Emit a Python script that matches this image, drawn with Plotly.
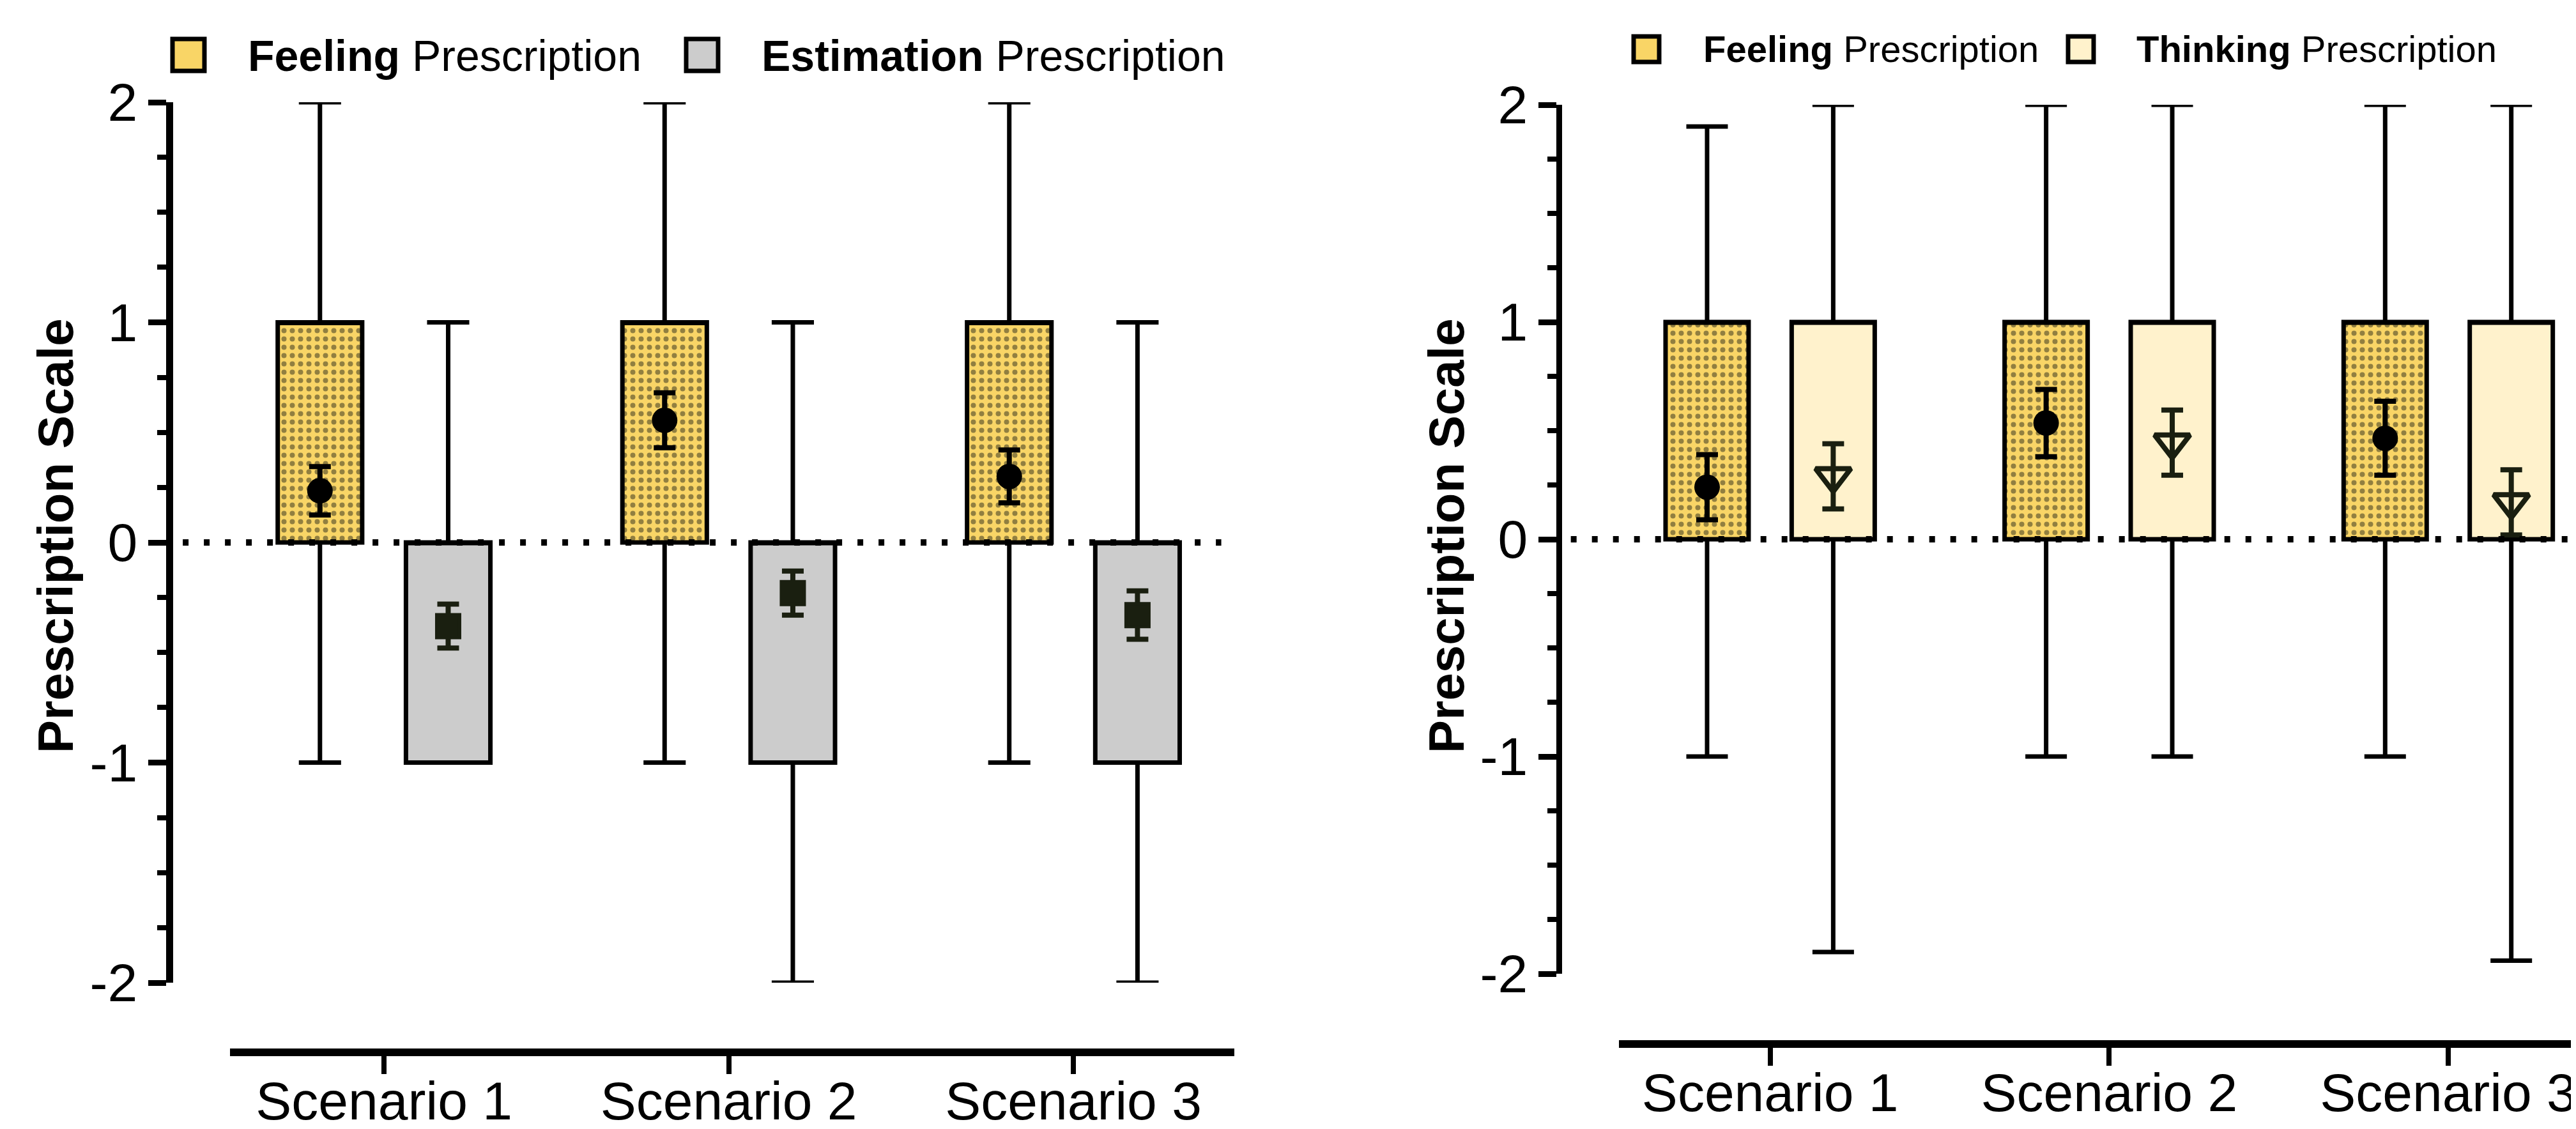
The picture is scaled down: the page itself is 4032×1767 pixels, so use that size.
import numpy as np
import plotly.graph_objects as go

# ---------------- data ----------------
categories = ["Scenario 1", "Scenario 2", "Scenario 3"]

# Left panel: Feeling vs Estimation prescription
feelA_min = [-1, -1, -1]
feelA_q1 = [0, 0, 0]
feelA_med = [1, 1, 1]
feelA_q3 = [1, 1, 1]
feelA_max = [2, 2, 2]
feelA_mean = [0.235, 0.555, 0.30]
feelA_err = [0.11, 0.125, 0.12]

est_min = [-1, -2, -2]
est_q1 = [-1, -1, -1]
est_med = [0, 0, 0]
est_q3 = [0, 0, 0]
est_max = [1, 1, 1]
est_mean = [-0.38, -0.23, -0.33]
est_err = [0.10, 0.10, 0.11]

# Right panel: Feeling vs Thinking prescription
feelB_min = [-1, -1, -1]
feelB_q1 = [0, 0, 0]
feelB_med = [1, 1, 1]
feelB_q3 = [1, 1, 1]
feelB_max = [1.9, 2, 2]
feelB_mean = [0.24, 0.535, 0.465]
feelB_err = [0.15, 0.155, 0.17]

think_min = [-1.9, -1, -1.94]
think_q1 = [0, 0, 0]
think_med = [1, 1, 1]
think_q3 = [1, 1, 1]
think_max = [2, 2, 2]
think_mean = [0.29, 0.445, 0.17]
think_err = [0.15, 0.15, 0.15]

legend_left = ["<b>Feeling</b> Prescription", "<b>Estimation</b> Prescription"]
legend_right = ["<b>Feeling</b> Prescription", "<b>Thinking</b> Prescription"]
y_title = "<b>Prescription Scale</b>"

# ---------------- style ----------------
W, H = 4032, 1767
FONT = "Liberation Sans, Arial, Helvetica, sans-serif"
YELLOW = "#F9D566"
GRAY = "#CCCCCC"
CREAM = "#FFF2CC"
DARK = "#1a1f10"
OFFSET = 0.186
BOX_W = 0.245

idx = np.arange(len(categories))


def px_x(p):
    return p / W


def px_y(p):
    return 1 - p / H


fig = go.Figure()


def add_group(xa, ya, pos, q1, med, q3, lo, hi, fill, patterned):
    if patterned:
        fig.add_trace(go.Bar(
            x=pos, y=np.subtract(q3, q1), base=q1, width=BOX_W,
            marker=dict(color=fill, line=dict(width=0),
                        pattern=dict(shape=".", fgcolor="#2a2a1a", bgcolor=fill,
                                     size=13, solidity=0.3, fillmode="overlay")),
            xaxis=xa, yaxis=ya, showlegend=False, hoverinfo="skip"))
    fig.add_trace(go.Box(
        x=pos, q1=q1, median=med, q3=q3, lowerfence=lo, upperfence=hi,
        orientation="v", width=BOX_W, whiskerwidth=0.5, boxpoints=False,
        fillcolor="rgba(0,0,0,0)" if patterned else fill,
        line=dict(color="black", width=7),
        xaxis=xa, yaxis=ya, showlegend=False))


def add_mean(xa, ya, pos, mean, err, symbol, size, color, lw=0):
    marker = dict(symbol=symbol, size=size, color=color, line=dict(color=color, width=lw))
    fig.add_trace(go.Scatter(
        x=pos, y=mean, mode="markers", marker=marker,
        error_y=dict(type="data", array=err, color=color, thickness=8, width=17),
        xaxis=xa, yaxis=ya, showlegend=False))


# patterned boxes first (bars must be drawn under boxes)
add_group("x", "y", idx - OFFSET, feelA_q1, feelA_med, feelA_q3, feelA_min, feelA_max, YELLOW, True)
add_group("x2", "y2", idx - OFFSET, feelB_q1, feelB_med, feelB_q3, feelB_min, feelB_max, YELLOW, True)
add_group("x", "y", idx + OFFSET, est_q1, est_med, est_q3, est_min, est_max, GRAY, False)
add_group("x2", "y2", idx + OFFSET, think_q1, think_med, think_q3, think_min, think_max, CREAM, False)

add_mean("x", "y", idx - OFFSET, feelA_mean, feelA_err, "circle", 40, "black")
add_mean("x", "y", idx + OFFSET, est_mean, est_err, "square", 36, DARK, lw=5)
add_mean("x2", "y2", idx - OFFSET, feelB_mean, feelB_err, "circle", 40, "black")
add_mean("x2", "y2", idx + OFFSET, think_mean, think_err, "triangle-down-open", 48, DARK, lw=8)


def xaxis_cfg(d0, d1, rng, pos):
    return dict(domain=[px_x(d0), px_x(d1)], range=rng, anchor="free", position=px_y(pos),
                showline=True, linecolor="black", linewidth=12,
                ticks="outside", ticklen=28, tickwidth=8, tickcolor="black",
                tickmode="array", tickvals=idx, ticktext=categories,
                ticklabelstandoff=-30,
                tickfont=dict(family=FONT, size=84, color="black"),
                showgrid=False, zeroline=False, fixedrange=True, automargin=False)


def yaxis_cfg(top, bot, pos, lw):
    return dict(domain=[px_y(bot), px_y(top)], range=[-2, 2], anchor="free", position=px_x(pos),
                showline=True, linecolor="black", linewidth=lw,
                ticks="outside", ticklen=28, tickwidth=9, tickcolor="black",
                tickmode="linear", tick0=0, dtick=1,
                labelalias={"\u22121": "-1", "\u22122": "-2"},
                minor=dict(tickmode="linear", tick0=0, dtick=0.25, ticks="outside",
                           ticklen=14, tickwidth=8, tickcolor="black", showgrid=False),
                tickfont=dict(family=FONT, size=84, color="black"),
                showgrid=False, zeroline=False, fixedrange=True, automargin=False)


shapes = [
    dict(type="line", xref="x domain", yref="y", x0=-0.047, x1=0.987, y0=0, y1=0,
         line=dict(color="black", width=10, dash="9px,24px"), layer="above"),
    dict(type="line", xref="x2 domain", yref="y2", x0=-0.05, x1=1.0, y0=0, y1=0,
         line=dict(color="black", width=10, dash="9px,24px"), layer="above"),
]

# manual legends
leg_specs = [
    (262, 53, 50, YELLOW, 378, 79, legend_left[0], 68),
    (1066, 53, 50, GRAY, 1182, 79, legend_left[1], 68),
    (2549, 49, 40, YELLOW, 2656, 68, legend_right[0], 58),
    (3229, 49, 40, CREAM, 3334, 68, legend_right[1], 58),
]
annotations = []
for sx, sy, ss, col, tx, ty, txt, fs in leg_specs:
    shapes.append(dict(type="rect", xref="paper", yref="paper",
                       x0=px_x(sx), x1=px_x(sx + ss), y0=px_y(sy + ss), y1=px_y(sy),
                       fillcolor=col, line=dict(color="black", width=7), layer="above"))
    annotations.append(dict(xref="paper", yref="paper", x=px_x(tx), y=px_y(ty),
                            xanchor="left", yanchor="middle", showarrow=False, text=txt,
                            font=dict(family=FONT, size=fs, color="black")))

# y-axis titles
for cx in (79, 2256):
    annotations.append(dict(xref="paper", yref="paper", x=px_x(cx), y=px_y(831),
                            xanchor="center", yanchor="middle", showarrow=False,
                            text=y_title, textangle=-90,
                            font=dict(family=FONT, size=78, color="black")))

fig.update_layout(
    template="none",
    width=W, height=H, autosize=False,
    margin=dict(l=0, r=0, t=0, b=0, pad=0),
    paper_bgcolor="white", plot_bgcolor="white",
    barmode="overlay", boxmode="overlay",
    showlegend=False,
    xaxis=xaxis_cfg(352, 1924, [-0.447, 2.467], 1639),
    yaxis=yaxis_cfg(152, 1530, 257, 11),
    xaxis2=xaxis_cfg(2526, W, [-0.446, 2.392], 1626),
    yaxis2=yaxis_cfg(156, 1516, 2432, 9),
    shapes=shapes,
    annotations=annotations,
    font=dict(family=FONT, color="black"),
)

fig.write_html("out.html")
